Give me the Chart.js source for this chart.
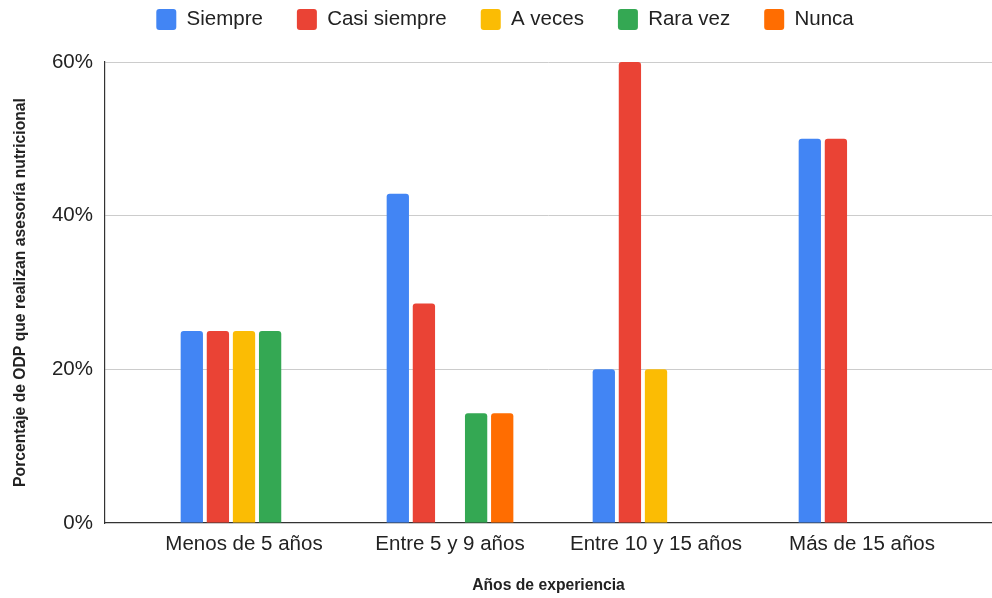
<!DOCTYPE html>
<html>
<head>
<meta charset="utf-8">
<script src="https://cdn.jsdelivr.net/npm/chart.js@4"></script>
<style>
  html, body { margin: 0; padding: 0; background: #ffffff; }
  #wrap { width: 992px; height: 598px; }
</style>
</head>
<body>
<div id="wrap"><canvas id="c" width="992" height="598"></canvas></div>
<script>
const categories = ['Menos de 5 años', 'Entre 5 y 9 años', 'Entre 10 y 15 años', 'Más de 15 años'];
const seriesNames = ['Siempre', 'Casi siempre', 'A veces', 'Rara vez', 'Nunca'];
const siempre = [25, 42.86, 20, 50];
const casiSiempre = [25, 28.57, 60, 50];
const aVeces = [25, 0, 20, 0];
const raraVez = [25, 14.29, 0, 0];
const nunca = [0, 14.29, 0, 0];
const yTicks = [0, 20, 40, 60];
const colors = ['#4285F4', '#EA4335', '#FBBC04', '#34A853', '#FF6D01'];

const FONT = "'Liberation Sans', Arial, Helvetica, sans-serif";
const allSeries = [siempre, casiSiempre, aVeces, raraVez, nunca];

const datasets = allSeries.map((vals, s) => ({
  label: seriesNames[s],
  data: vals.map((v, i) => ({ x: i, y: v })),
  backgroundColor: colors[s],
  borderWidth: 0,
  borderRadius: { topLeft: 3, topRight: 3, bottomLeft: 0, bottomRight: 0 },
  borderSkipped: 'start',
  categoryPercentage: 0.6335,
  barPercentage: 0.854
}));

const legendSpacing = {
  id: 'legendSpacing',
  beforeLayout(chart) {
    const lg = chart.legend;
    if (lg && !lg._patched) {
      const orig = lg.fit;
      lg.fit = function () { orig.call(this); this.height += 22; };
      lg._patched = true;
    }
  },
  afterLayout(chart) {
    const lg = chart.legend;
    if (lg) { lg.left += 9; lg.right += 9; }
  }
};

new Chart(document.getElementById('c'), {
  type: 'bar',
  data: { datasets },
  plugins: [legendSpacing],
  options: {
    responsive: false,
    animation: false,
    layout: { padding: { top: -25, left: 0, right: 0, bottom: 0 } },
    plugins: {
      tooltip: { enabled: false },
      legend: {
        position: 'top',
        align: 'center',
        labels: {
          font: { family: FONT, size: 20.5 },
          color: '#222222',
          boxWidth: 20,
          boxHeight: 21,
          padding: 34,
          useBorderRadius: true,
          borderRadius: 3
        }
      }
    },
    scales: {
      x: {
        type: 'linear',
        bounds: 'data',
        offset: false,
        min: -0.6748,
        max: 3.631,
        afterBuildTicks(scale) { scale.ticks = categories.map((c, i) => ({ value: i })); },
        afterFit(scale) { scale.height = 75; },
        grid: { display: false, offset: false, drawTicks: false },
        border: { display: true, color: '#333333', width: 1.2 },
        ticks: {
          autoSkip: false,
          maxRotation: 0,
          padding: 9,
          color: '#222222',
          font: { family: FONT, size: 20.5 },
          callback: (v) => categories[v]
        },
        title: {
          display: true,
          text: 'Años de experiencia',
          color: '#222222',
          font: { family: FONT, size: 15.7, weight: 'bold' },
          padding: { top: 0, bottom: 3 }
        }
      },
      y: {
        min: 0,
        max: 60,
        afterBuildTicks(scale) { scale.ticks = yTicks.map(v => ({ value: v })); },
        afterFit(scale) { scale.width = 105; },
        grid: {
          drawTicks: false,
          color: (ctx) => (ctx.tick && ctx.tick.value === 0) ? 'rgba(0,0,0,0)' : '#cccccc',
          lineWidth: 1
        },
        border: { display: true, color: '#333333', width: 1.2 },
        ticks: {
          padding: 12,
          color: '#222222',
          font: { family: FONT, size: 20.5 },
          callback: (v) => v + '%'
        },
        title: {
          display: true,
          text: 'Porcentaje de ODP que realizan asesoría nutricional',
          color: '#222222',
          font: { family: FONT, size: 15.7, weight: 'bold' },
          padding: { top: 11, bottom: 0 }
        }
      }
    }
  }
});
</script>
</body>
</html>
